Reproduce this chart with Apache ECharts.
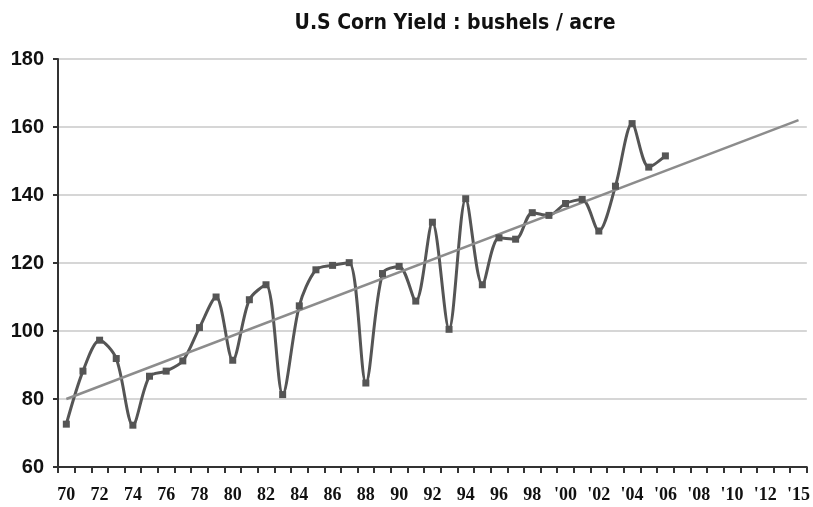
<!DOCTYPE html>
<html>
<head>
<meta charset="utf-8">
<script src="https://cdn.jsdelivr.net/npm/echarts@6/dist/echarts.min.js"></script>
<style>
    html, body {margin:0; padding:0; background:#fff;}
    #ChartMain {width:813px; height:507px;}
</style>
</head>
<body>
<div id="ChartMain"></div>
<script type="text/javascript">
    // years on the category axis (1970 .. 2014)
    var years = [];
    for (var y = 1970; y <= 2014; y++) years.push(y);
    // labels shown under every second category
    var tickLabels = ['70','72','74','76','78','80','82','84','86','88','90','92','94','96','98',
                      "'00","'02","'04","'06","'08","'10","'12","'15"];
    // yield, bushels / acre, 1970 .. 2006
    var cornYield = [72.6, 88.2, 97.3, 91.9, 72.3, 86.7, 88.2, 91.2, 101.0, 110.0,
                     91.4, 109.2, 113.6, 81.3, 107.4, 118.0, 119.3, 120.1, 84.7, 116.9,
                     119.0, 108.8, 132.0, 100.5, 138.9, 113.6, 127.4, 127.0, 134.8, 134.0,
                     137.5, 138.7, 129.4, 142.6, 161.0, 148.2, 151.5];
    // trend line end values (1970 and 2014)
    var trendStart = 80;
    var trendEnd = 162;

    var trend = years.map(function (yr, i) {
        if (i === 0) return trendStart;
        if (i === years.length - 1) return trendEnd;
        return null;
    });

    var myChart = echarts.init(document.getElementById('ChartMain'));
    var option = {
        animation: false,
        title: {
            text: 'U.S Corn Yield : bushels / acre',
            left: 450,
            top: 8,
            textAlign: 'center',
            textStyle: {
                fontFamily: '"DejaVu Sans Condensed", "Liberation Sans", sans-serif',
                fontWeight: 'bold',
                fontSize: 21,
                color: '#111'
            }
        },
        grid: {
            left: 58,
            right: 5,
            top: 59,
            bottom: 40
        },
        xAxis: {
            type: 'category',
            data: years,
            boundaryGap: true,
            axisLine: {lineStyle: {color: '#333', width: 2}},
            axisTick: {show: true, interval: 0, length: 6, lineStyle: {color: '#333', width: 2}},
            axisLabel: {
                interval: 1,
                margin: 19,
                fontFamily: '"Liberation Serif", serif',
                fontWeight: 'bold',
                fontSize: 18,
                color: '#111',
                formatter: function (v, i) { return tickLabels[i / 2]; }
            },
            splitLine: {show: false}
        },
        yAxis: {
            type: 'value',
            min: 60,
            max: 180,
            interval: 20,
            axisLine: {show: true, lineStyle: {color: '#333', width: 2}},
            axisTick: {show: true, length: 5, lineStyle: {color: '#333', width: 2}},
            axisLabel: {
                margin: 14,
                fontFamily: '"Liberation Sans", Arial, sans-serif',
                fontWeight: 'bold',
                fontSize: 20,
                color: '#111'
            },
            splitLine: {lineStyle: {color: '#d6d6d6', width: 2}}
        },
        series: [
            {
                name: 'Yield',
                type: 'line',
                data: cornYield,
                smooth: 0.3,
                symbol: 'rect',
                symbolSize: 7,
                lineStyle: {color: '#555', width: 3},
                itemStyle: {color: '#555'}
            },
            {
                name: 'Trend',
                type: 'line',
                data: trend,
                connectNulls: true,
                showSymbol: false,
                symbol: 'none',
                lineStyle: {color: '#8c8c8c', width: 2.5},
                z: 3
            }
        ]
    };
    myChart.setOption(option);
</script>
</body>
</html>
